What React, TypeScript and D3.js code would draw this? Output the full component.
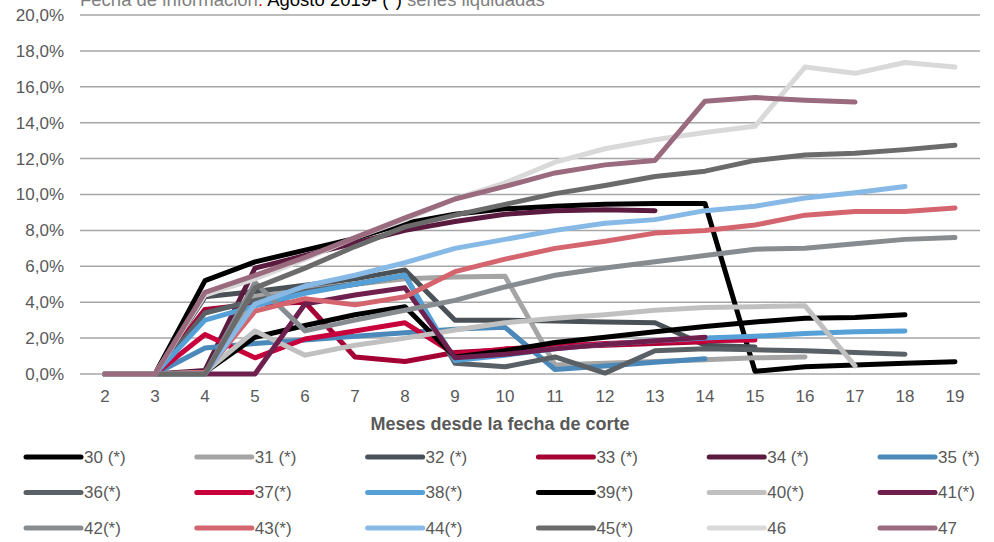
import React, { useEffect, useRef } from 'react'
import * as d3 from 'd3'

// meses desde la fecha de corte
const months = [2, 3, 4, 5, 6, 7, 8, 9, 10, 11, 12, 13, 14, 15, 16, 17, 18, 19]
const yTicks = [0, 2, 4, 6, 8, 10, 12, 14, 16, 18, 20]

// % por serie, null = sin dato
const s30 = [0, 0, 5.2, 6.25, 6.9, 7.55, 8.4, 8.9, 9.2, 9.35, 9.45, 9.5, 9.5, 0.15, 0.4, 0.5, 0.6, 0.68]
const s31 = [0, 0, 0, 4.3, 4.7, 5.0, 5.3, 5.4, 5.45, 0.5, 0.6, 0.7, 0.8, 0.9, 0.95, null, null, null]
const s32 = [0, 0, 4.3, 4.6, 4.95, 5.3, 5.8, 3.0, 3.0, 2.95, 2.9, 2.85, 1.6, 1.5, null, null, null, null]
const s33 = [0, 0, 3.6, 3.9, 4.0, 0.95, 0.7, 1.2, 1.35, 1.5, 1.6, 1.7, 1.8, null, null, null, null, null]
const s34 = [0, 0, 0.2, 5.9, 6.6, 7.3, 8.0, 8.5, 8.9, 9.1, 9.15, 9.1, null, null, null, null, null, null]
const s35 = [0, 0, 1.45, 1.7, 1.9, 2.1, 2.3, 2.5, 2.6, 0.25, 0.45, 0.65, 0.85, null, null, null, null, null]
const s36 = [0, 0, 3.4, 4.1, 4.6, 5.0, 5.5, 0.6, 0.4, 0.95, 0.05, 1.3, 1.4, 1.35, 1.3, 1.2, 1.1, null]
const s37 = [0, 0, 2.2, 0.9, 1.95, 2.4, 2.85, 1.1, 1.4, 1.55, 1.7, 1.8, 1.85, 1.9, null, null, null, null]
const s38 = [0, 0, 3.0, 3.8, 4.5, 5.0, 5.5, 0.75, 1.05, 1.4, 1.65, 1.85, 2.0, 2.1, 2.25, 2.35, 2.4, null]
const s39 = [0, 0, 0.1, 2.05, 2.7, 3.3, 3.75, 0.95, 1.3, 1.75, 2.05, 2.35, 2.65, 2.9, 3.1, 3.15, 3.3, null]
const s40 = [0, 0, 0.1, 2.4, 1.05, 1.6, 2.0, 2.45, 2.85, 3.1, 3.3, 3.55, 3.7, 3.75, 3.8, 0.45, null, null]
const s41 = [0, 0, 0, 0, 3.9, 4.4, 4.8, 0.9, 1.1, 1.4, 1.65, 1.85, 2.05, null, null, null, null, null]
const s42 = [0, 0, 0, 5.1, 2.4, 3.0, 3.55, 4.1, 4.85, 5.5, 5.9, 6.25, 6.6, 6.95, 7.0, 7.25, 7.5, 7.6]
const s43 = [0, 0, 0.1, 3.5, 4.2, 3.85, 4.3, 5.7, 6.4, 7.0, 7.4, 7.85, 8.0, 8.3, 8.85, 9.05, 9.05, 9.25]
const s44 = [0, 0, 0, 3.9, 4.9, 5.5, 6.2, 7.0, 7.5, 8.0, 8.4, 8.6, 9.1, 9.35, 9.8, 10.1, 10.45, null]
const s45 = [0, 0, 0, 4.8, 5.9, 7.1, 8.2, 8.85, 9.45, 10.05, 10.5, 11.0, 11.3, 11.9, 12.2, 12.3, 12.5, 12.75]
const s46 = [0, 0, 4.4, 5.3, 6.4, 7.6, 8.6, 9.75, 10.65, 11.8, 12.55, 13.05, 13.45, 13.8, 17.1, 16.75, 17.35, 17.1]
const s47 = [0, 0, 4.55, 5.5, 6.5, 7.6, 8.7, 9.75, 10.45, 11.2, 11.65, 11.9, 15.2, 15.4, 15.25, 15.15, null, null]

const labels = ['30 (*)', '31 (*)', '32 (*)', '33 (*)', '34 (*)', '35 (*)', '36(*)', '37(*)', '38(*)', '39(*)', '40(*)', '41(*)', '42(*)', '43(*)', '44(*)', '45(*)', '46', '47']
const colors = ['#000000', '#a5a5a5', '#4b5257', '#a50034', '#5b1a3f', '#4a89b9', '#5a6166', '#c8003c', '#55a0d6', '#000000', '#c0c0c0', '#6e1f4e', '#878c90', '#d4656f', '#86b9e6', '#6b6b6b', '#d9d9d9', '#9a6a7f']
const values = [s30, s31, s32, s33, s34, s35, s36, s37, s38, s39, s40, s41, s42, s43, s44, s45, s46, s47]

const W = 994
const H = 542
const font = '"Liberation Sans", Arial, sans-serif'
const textColor = '#595959'

export default function App() {
	const ref = useRef(null)

	useEffect(() => {
		const svg = d3.select(ref.current)
		svg.selectAll('*').remove()

		const x = d3.scalePoint().domain(months).range([80, 980]).padding(0.5)
		const y = d3.scaleLinear().domain([0, 20]).range([374, 15])

		// cabecera (cortada arriba como en el original)
		const head = svg.append('text').attr('x', 80).attr('y', 6).attr('font-family', font).attr('font-size', 18.5)
		head.append('tspan').attr('fill', '#7f7f7f').text('Fecha de información')
		head.append('tspan').attr('fill', '#e00000').text(':')
		head.append('tspan').attr('fill', '#000').text(' Agosto 2019- (*)')
		head.append('tspan').attr('fill', '#7f7f7f').text(' series liquidadas')

		// rejilla horizontal
		svg.append('g')
			.selectAll('line')
			.data(yTicks)
			.join('line')
			.attr('x1', 80)
			.attr('x2', 980)
			.attr('y1', d => y(d))
			.attr('y2', d => y(d))
			.attr('stroke', '#a6a6a6')
			.attr('stroke-width', 1.5)

		// eje y
		svg.append('g')
			.selectAll('text')
			.data(yTicks)
			.join('text')
			.attr('x', 64)
			.attr('y', d => y(d))
			.attr('dy', '0.35em')
			.attr('text-anchor', 'end')
			.attr('font-family', font)
			.attr('font-size', 17)
			.attr('fill', textColor)
			.text(d => d3.format('.1f')(d).replace('.', ',') + '%')

		// eje x
		svg.append('g')
			.selectAll('text')
			.data(months)
			.join('text')
			.attr('x', d => x(d))
			.attr('y', 396)
			.attr('dy', '0.35em')
			.attr('text-anchor', 'middle')
			.attr('font-family', font)
			.attr('font-size', 17)
			.attr('fill', textColor)
			.text(d => d)

		svg.append('text')
			.attr('x', 500)
			.attr('y', 424)
			.attr('dy', '0.35em')
			.attr('text-anchor', 'middle')
			.attr('font-family', font)
			.attr('font-size', 18)
			.attr('font-weight', 'bold')
			.attr('fill', textColor)
			.text('Meses desde la fecha de corte')

		// series
		const line = d3.line()
			.defined(d => d[1] != null)
			.x(d => x(d[0]))
			.y(d => y(d[1]))

		svg.append('g')
			.selectAll('path')
			.data(values)
			.join('path')
			.attr('d', v => line(months.map((m, i) => [m, v[i]])))
			.attr('fill', 'none')
			.attr('stroke', (v, i) => colors[i])
			.attr('stroke-width', 5)
			.attr('stroke-linejoin', 'round')
			.attr('stroke-linecap', 'round')

		// leyenda
		const legend = svg.append('g')
			.selectAll('g')
			.data(labels)
			.join('g')
			.attr('transform', (d, i) => `translate(${26 + (i % 6) * 170.8},${457 + Math.floor(i / 6) * 35.5})`)
		legend.append('line')
			.attr('x1', 0)
			.attr('x2', 55)
			.attr('stroke', (d, i) => colors[i])
			.attr('stroke-width', 5)
			.attr('stroke-linecap', 'round')
		legend.append('text')
			.attr('x', 58)
			.attr('dy', '0.35em')
			.attr('font-family', font)
			.attr('font-size', 17)
			.attr('fill', textColor)
			.text(d => d)
	}, [])

	return <svg ref={ref} width={W} height={H} style={{ position: 'absolute', left: 0, top: 0 }} />
}
